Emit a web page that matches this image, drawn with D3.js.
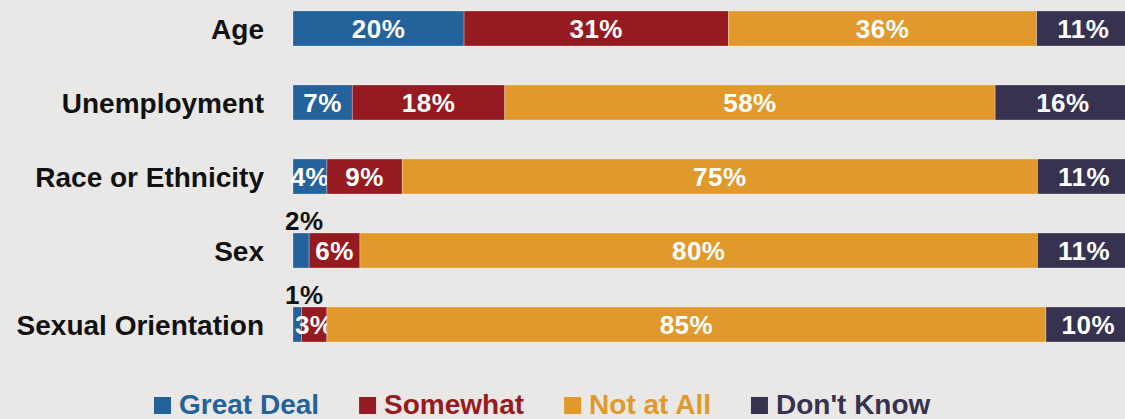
<!DOCTYPE html>
<html>
<head>
<meta charset="utf-8">
<script src="https://cdn.jsdelivr.net/npm/d3@7"></script>
<style>
  body { margin: 0; background: #e9e8e6; }
  svg { display: block; font-family: "Liberation Sans", Arial, sans-serif; }
</style>
</head>
<body>
<script>
var categories = ["Age", "Unemployment", "Race or Ethnicity", "Sex", "Sexual Orientation"];
var seriesNames = ["Great Deal", "Somewhat", "Not at All", "Don't Know"];
// shares (labels show them rounded)
var greatDeal = [20.2, 7, 4, 1.9, 1];
var somewhat  = [31.2, 18, 8.9, 6, 3];
var notAtAll  = [36.4, 57.9, 75, 80, 84.9];
var dontKnow  = [11, 16, 11, 11, 10];
var colors = ["#23629a", "#961b20", "#e0992a", "#36324f"];

var width = 1125, height = 419;

// build rows for the stack
var rows = categories.map(function(c, i) {
  return { cat: c, "Great Deal": greatDeal[i], "Somewhat": somewhat[i],
           "Not at All": notAtAll[i], "Don't Know": dontKnow[i] };
});
var stack = d3.stack().keys(seriesNames)(rows);

var xScale = d3.scaleLinear().domain([0, 100]).range([293, 1140]);
var yScale = d3.scaleBand()
      .domain(categories)
      .range([11, 342])
      .paddingInner(39 / 74)
      .paddingOuter(0);

var svg = d3.select("body").append("svg")
    .attr("width", width)
    .attr("height", height);

svg.append("rect")
    .attr("width", width).attr("height", height)
    .attr("fill", "#e9e8e6");

// category labels
svg.append("g").selectAll("text")
  .data(categories)
  .enter().append("text")
    .attr("x", 264)
    .attr("y", function(d) { return yScale(d) + yScale.bandwidth() / 2; })
    .attr("dy", "0.36em")
    .attr("text-anchor", "end")
    .attr("font-size", "28px")
    .attr("font-weight", "bold")
    .attr("fill", "#111")
    .text(function(d) { return d; });

var layer = svg.append("g").selectAll("g")
  .data(stack)
  .enter().append("g")
    .attr("fill", function(d, i) { return colors[i]; });

// bars
layer.selectAll("rect")
  .data(function(d) { return d; })
  .enter().append("rect")
    .attr("x", function(d) { return xScale(d[0]); })
    .attr("y", function(d) { return yScale(d.data.cat); })
    .attr("width", function(d) { return xScale(d[1]) - xScale(d[0]); })
    .attr("height", yScale.bandwidth())
    .attr("stroke", "#ffffff")
    .attr("stroke-opacity", 0.35)
    .attr("stroke-width", 0.8);

// value labels (tiny shares sit above the bar)
function small(d) { return (d[1] - d[0]) < 2.5; }

layer.selectAll("text")
  .data(function(d) { return d; })
  .enter().append("text")
    .attr("x", function(d) {
      if (small(d)) return xScale(d[0]) - 8;
      return (xScale(d[0]) + xScale(d[1])) / 2;
    })
    .attr("y", function(d) {
      if (small(d)) return yScale(d.data.cat) - 3;
      return yScale(d.data.cat) + yScale.bandwidth() / 2;
    })
    .attr("dy", function(d) { return small(d) ? "0" : "0.36em"; })
    .attr("text-anchor", function(d) { return small(d) ? "start" : "middle"; })
    .attr("font-size", "26px")
    .attr("font-weight", "bold")
    .attr("letter-spacing", "0.5px")
    .attr("fill", function(d) { return small(d) ? "#111" : "#fff"; })
    .text(function(d) { return Math.round(d[1] - d[0]) + "%"; });

// legend
var legend = svg.append("g");
var lx = 154;
seriesNames.forEach(function(name, i) {
  legend.append("rect")
    .attr("x", lx).attr("y", 397)
    .attr("width", 17).attr("height", 17)
    .attr("fill", colors[i]);
  var t = legend.append("text")
    .attr("x", lx + 25).attr("y", 414)
    .attr("font-size", "28px")
    .attr("font-weight", "bold")
    .attr("fill", colors[i])
    .text(name);
  lx += 25 + t.node().getComputedTextLength() + 40;
});
</script>
</body>
</html>
